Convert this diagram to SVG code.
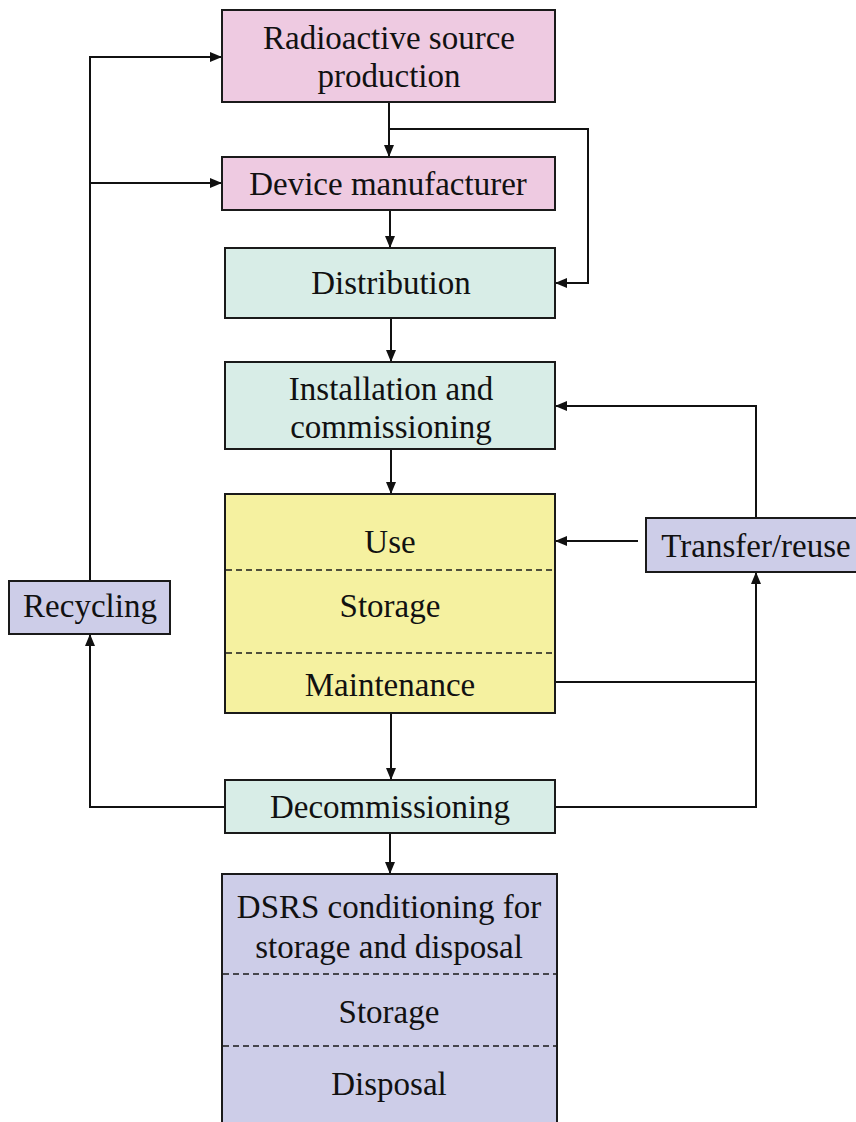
<svg xmlns="http://www.w3.org/2000/svg" width="856" height="1122" viewBox="0 0 856 1122">
<style>
.box{stroke:#1a1a1a;stroke-width:2}
.pink{fill:#EECAE1}
.mint{fill:#D8EDE7}
.yel{fill:#F5F1A0}
.lav{fill:#CDCDE8}
.dash{stroke:#1a1a1a;stroke-width:1.5;stroke-dasharray:6,4;fill:none}
.t{font-family:"Liberation Serif","Times New Roman",serif;font-size:33px;fill:#111;text-anchor:middle}
.c{stroke:#111;stroke-width:2;fill:none}
</style>
<defs>
<marker id="ah" markerUnits="userSpaceOnUse" markerWidth="12" markerHeight="12" viewBox="0 0 12 12" refX="12" refY="6" orient="auto">
<path d="M0,1 L12,6 L0,11 Z" fill="#111"/>
</marker>
</defs>
<rect width="856" height="1122" fill="#fff"/>
<g id="connectors">
<path class="c" d="M389,102 V157" marker-end="url(#ah)"/>
<path class="c" d="M389,129 H588 V283 H555" marker-end="url(#ah)"/>
<path class="c" d="M390,210 V248" marker-end="url(#ah)"/>
<path class="c" d="M391,318 V362" marker-end="url(#ah)"/>
<path class="c" d="M391,449 V494" marker-end="url(#ah)"/>
<path class="c" d="M391,713 V780" marker-end="url(#ah)"/>
<path class="c" d="M390,833 V874" marker-end="url(#ah)"/>
<path class="c" d="M638,541 H555" marker-end="url(#ah)"/>
<path class="c" d="M756,518 V406 H555" marker-end="url(#ah)"/>
<path class="c" d="M555,682 H756"/>
<path class="c" d="M555,807 H756 V572" marker-end="url(#ah)"/>
<path class="c" d="M225,807 H90 V634" marker-end="url(#ah)"/>
<path class="c" d="M90,582 V57 H222" marker-end="url(#ah)"/>
<path class="c" d="M90,183 H222" marker-end="url(#ah)"/>
</g>
<g id="radioactive-source-production">
<rect class="box pink" x="222" y="10" width="333" height="92"/>
<text class="t" x="389" y="49">Radioactive source</text>
<text class="t" x="389" y="87">production</text>
</g>
<g id="device-manufacturer">
<rect class="box pink" x="222" y="157" width="333" height="53"/>
<text class="t" x="388" y="195">Device manufacturer</text>
</g>
<g id="distribution">
<rect class="box mint" x="225" y="248" width="330" height="70"/>
<text class="t" x="391" y="294">Distribution</text>
</g>
<g id="installation">
<rect class="box mint" x="225" y="362" width="330" height="87"/>
<text class="t" x="391" y="400">Installation and</text>
<text class="t" x="391" y="438">commissioning</text>
</g>
<g id="use-storage-maintenance">
<rect class="box yel" x="225" y="494" width="330" height="219"/>
<line class="dash" x1="226" y1="570" x2="554" y2="570"/>
<line class="dash" x1="226" y1="653" x2="554" y2="653"/>
<text class="t" x="390" y="553">Use</text>
<text class="t" x="390" y="617">Storage</text>
<text class="t" x="390" y="696">Maintenance</text>
</g>
<g id="transfer-reuse">
<rect class="box lav" x="646" y="518" width="220" height="54"/>
<text class="t" x="756" y="557">Transfer/reuse</text>
</g>
<g id="recycling">
<rect class="box lav" x="9" y="581" width="161" height="53"/>
<text class="t" x="90" y="617">Recycling</text>
</g>
<g id="decommissioning">
<rect class="box mint" x="225" y="780" width="330" height="53"/>
<text class="t" x="390" y="818">Decommissioning</text>
</g>
<g id="dsrs">
<rect class="box lav" x="222" y="874" width="335" height="260"/>
<line class="dash" x1="223" y1="974" x2="556" y2="974"/>
<line class="dash" x1="223" y1="1046" x2="556" y2="1046"/>
<text class="t" x="389" y="918">DSRS conditioning for</text>
<text class="t" x="389" y="958">storage and disposal</text>
<text class="t" x="389" y="1023">Storage</text>
<text class="t" x="389" y="1095">Disposal</text>
</g>
</svg>
